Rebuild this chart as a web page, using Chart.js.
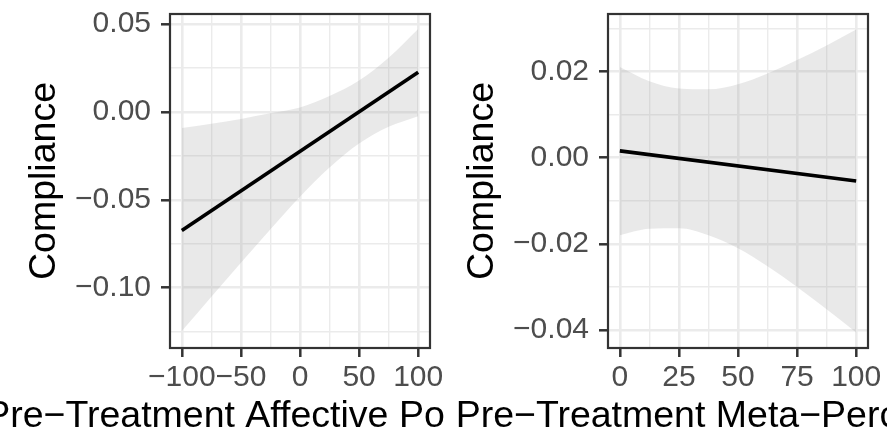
<!DOCTYPE html>
<html>
<head>
<meta charset="utf-8">
<script src="https://cdn.jsdelivr.net/npm/chart.js@4.4.1/dist/chart.umd.min.js"></script>
<style>
  html, body { margin: 0; padding: 0; background: #fff; }
  .wrap { position: relative; width: 887px; height: 433px; overflow: hidden; }
  canvas { position: absolute; top: 0; }
  #left { left: 0; }
  #right { left: 444px; }
</style>
</head>
<body>
<div class="wrap">
  <canvas id="left" width="444" height="433"></canvas>
  <canvas id="right" width="443" height="433"></canvas>
</div>
<script>
// --- DATA ---

// Affective polarization: fitted line and 95% band
const affX = [-100, -75, -50, -25, 0, 25, 50, 75, 100];
const affUpper = [-0.0092, -0.0068, -0.0040, -0.0008, 0.0025, 0.0090, 0.0178, 0.0308, 0.0472];
const affLower = [-0.1247, -0.1052, -0.0858, -0.0667, -0.0482, -0.0316, -0.0180, -0.0085, -0.0024];
const affFitX = [-100, 100];
const affFit = [-0.0675, 0.0225];

const affXMajor = [-100, -50, 0, 50, 100];
const affXLabels = ['\u2212100', '\u221250', '0', '50', '100'];
const affXMinor = [-75, -25, 25, 75];
const affYMajor = [-0.10, -0.05, 0, 0.05];
const affYLabels = ['\u22120.10', '\u22120.05', '0.00', '0.05'];
const affYMinor = [-0.125, -0.075, -0.025, 0.025];

// Meta-perception: fitted line and 95% band
const metaX = [0, 12.5, 25, 37.5, 50, 62.5, 75, 87.5, 100];
const metaUpper = [0.0211, 0.0178, 0.0161, 0.0159, 0.0171, 0.0196, 0.0227, 0.0261, 0.0298];
const metaLower = [-0.0180, -0.0165, -0.0164, -0.0180, -0.0210, -0.0252, -0.0300, -0.0352, -0.0406];
const metaFitX = [0, 100];
const metaFit = [0.0016, -0.0054];

const metaXMajor = [0, 25, 50, 75, 100];
const metaXLabels = ['0', '25', '50', '75', '100'];
const metaXMinor = [12.5, 37.5, 62.5, 87.5];
const metaYMajor = [-0.04, -0.02, 0, 0.02];
const metaYLabels = ['\u22120.04', '\u22120.02', '0.00', '0.02'];
const metaYMinor = [-0.03, -0.01, 0.01, 0.03];

// --- STYLE ---

const FONT = '"Liberation Sans", Arial, sans-serif';
const TITLE_SIZE = 37.5;
const TICK_SIZE = 30;

const toPoints = (xs, ys) => xs.map((x, i) => ({ x: x, y: ys[i] }));

// panel border + x title (drawn by hand so the long title is not squeezed)
const panelFrame = {
  id: 'panelFrame',
  afterDraw(chart, args, opts) {
    const { ctx, chartArea: a } = chart;
    ctx.save();
    ctx.strokeStyle = '#333333';
    ctx.lineWidth = 2.2;
    ctx.strokeRect(a.left, a.top, a.right - a.left, a.bottom - a.top);
    ctx.fillStyle = '#000000';
    ctx.font = TITLE_SIZE + 'px ' + FONT;
    ctx.textAlign = 'center';
    ctx.textBaseline = 'alphabetic';
    ctx.fillText(opts.text, (a.left + a.right) / 2 - 10, opts.baseline);
    ctx.restore();
  }
};

function gridAxis(major, labels, minor, min, max, padding) {
  const all = major.concat(minor).sort((a, b) => a - b);
  const isMajor = c => c.tick && major.includes(c.tick.value);
  return {
    type: 'linear',
    min: min,
    max: max,
    afterBuildTicks: s => { s.ticks = all.map(v => ({ value: v })); },
    grid: {
      color: '#EBEBEB',
      lineWidth: c => isMajor(c) ? 2.6 : 1.4,
      tickColor: c => isMajor(c) ? '#333333' : 'rgba(0,0,0,0)',
      tickLength: 9,
      tickWidth: 2.5
    },
    border: { display: false },
    ticks: {
      autoSkip: false,
      maxRotation: 0,
      minRotation: 0,
      padding: padding,
      color: '#4D4D4D',
      font: { family: FONT, size: TICK_SIZE },
      callback: v => {
        const i = major.indexOf(v);
        return i < 0 ? '' : labels[i];
      }
    }
  };
}

function makePanel(id, p) {
  const x = gridAxis(p.xMajor, p.xLabels, p.xMinor, p.xMin, p.xMax, 3);
  x.position = 'bottom';
  x.afterFit = s => { s.height = 85; s.paddingLeft = 0; s.paddingRight = 0; };

  const y = gridAxis(p.yMajor, p.yLabels, p.yMinor, p.yMin, p.yMax, 10);
  y.position = 'left';
  y.afterFit = s => { s.width = p.axisWidth; s.paddingTop = 0; s.paddingBottom = 0; };
  y.title = {
    display: true,
    text: 'Compliance',
    color: '#000000',
    font: { family: FONT, size: TITLE_SIZE },
    padding: { top: p.titlePad, bottom: 0 }
  };

  return new Chart(document.getElementById(id), {
    type: 'line',
    data: {
      datasets: [
        {
          data: toPoints(p.fitX, p.fit),
          borderColor: '#000000',
          borderWidth: 3.6,
          pointRadius: 0,
          fill: false
        },
        {
          data: toPoints(p.bandX, p.upper),
          borderWidth: 0,
          pointRadius: 0,
          cubicInterpolationMode: 'monotone',
          backgroundColor: 'rgba(153,153,153,0.22)',
          fill: '+1'
        },
        {
          data: toPoints(p.bandX, p.lower),
          borderWidth: 0,
          pointRadius: 0,
          cubicInterpolationMode: 'monotone',
          fill: false
        }
      ]
    },
    options: {
      responsive: false,
      animation: false,
      devicePixelRatio: 1,
      layout: { padding: { top: 14, right: p.rightPad, left: 0, bottom: 0 } },
      scales: { x: x, y: y },
      plugins: {
        legend: { display: false },
        tooltip: { enabled: false },
        panelFrame: { text: p.title, baseline: 427 }
      }
    },
    plugins: [panelFrame]
  });
}

makePanel('left', {
  bandX: affX, upper: affUpper, lower: affLower, fitX: affFitX, fit: affFit,
  xMajor: affXMajor, xLabels: affXLabels, xMinor: affXMinor, xMin: -110, xMax: 110,
  yMajor: affYMajor, yLabels: affYLabels, yMinor: affYMinor, yMin: -0.1343, yMax: 0.0557,
  axisWidth: 170, rightPad: 14, titlePad: 22,
  title: 'Pre\u2212Treatment Affective Polarization'
});

makePanel('right', {
  bandX: metaX, upper: metaUpper, lower: metaLower, fitX: metaFitX, fit: metaFit,
  xMajor: metaXMajor, xLabels: metaXLabels, xMinor: metaXMinor, xMin: -5, xMax: 105,
  yMajor: metaYMajor, yLabels: metaYLabels, yMinor: metaYMinor, yMin: -0.0442, yMax: 0.0334,
  axisWidth: 164, rightPad: 19, titlePad: 16,
  title: 'Pre\u2212Treatment Meta\u2212Perception'
});
</script>
</body>
</html>
